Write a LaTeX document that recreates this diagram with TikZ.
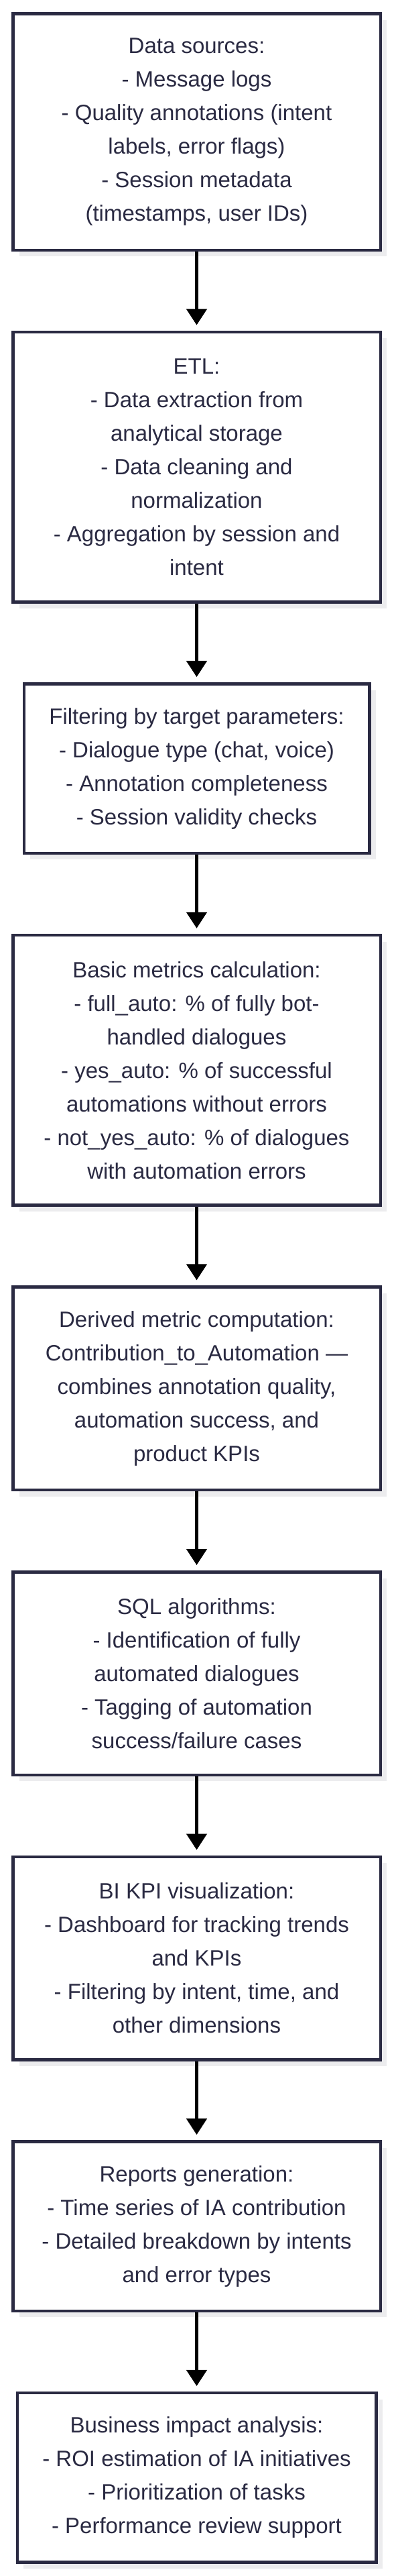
\documentclass[tikz,border=0pt]{standalone}
\usepackage{fontspec}
\setmainfont{Liberation Sans}
\usepackage{tikz}
\usetikzlibrary{positioning,arrows.meta,shadows}

\definecolor{Ink}{RGB}{42,42,66}
\definecolor{ShadowGray}{RGB}{236,236,238}

\begin{document}
\begin{tikzpicture}

	\tikzstyle{block} = [rectangle, draw=Ink, line width=2.25pt, fill=white, text=Ink,
		align=center, minimum width=274.25pt, font=\fontsize{16.5}{25}\selectfont,
		drop shadow={shadow xshift=4.75pt, shadow yshift=-4.75pt, fill=ShadowGray, opacity=1}]
	\tikzstyle{rows} = [minimum height=26.25pt+25pt*#1]
	\tikzstyle{line} = [draw, line width=2.25pt, -{Triangle[width=15pt,length=12pt]}, shorten >=4pt]

	\useasboundingbox (0,0) rectangle (294pt,-1920pt);

	\node[block, rows=6, anchor=north] (src) at (146.75pt,-9pt)
		{Data sources:\\- Message logs\\- Quality annotations (intent\\labels, error flags)\\- Session metadata\\(timestamps, user IDs)};
	\node[block, rows=7, below=58.8pt of src] (etl)
		{ETL:\\- Data extraction from\\analytical storage\\- Data cleaning and\\normalization\\- Aggregation by session and\\intent};
	\node[block, rows=4, minimum width=257.75pt, below=58.8pt of etl] (filt)
		{Filtering by target parameters:\\- Dialogue type (chat, voice)\\- Annotation completeness\\- Session validity checks};
	\node[block, rows=7, below=58.8pt of filt] (basic)
		{Basic metrics calculation:\\- full\_auto: \% of fully bot-\\handled dialogues\\- yes\_auto: \% of successful\\automations without errors\\- not\_yes\_auto: \% of dialogues\\with automation errors};
	\node[block, rows=5, below=58.8pt of basic] (derived)
		{Derived metric computation:\\Contribution\_to\_Automation —\\combines annotation quality,\\automation success, and\\product KPIs};
	\node[block, rows=5, below=58.8pt of derived] (sql)
		{SQL algorithms:\\- Identification of fully\\automated dialogues\\- Tagging of automation\\success/failure cases};
	\node[block, rows=5, below=58.8pt of sql] (bi)
		{BI KPI visualization:\\- Dashboard for tracking trends\\and KPIs\\- Filtering by intent, time, and\\other dimensions};
	\node[block, rows=4, below=58.8pt of bi] (reports)
		{Reports generation:\\- Time series of IA contribution\\- Detailed breakdown by intents\\and error types};
	\node[block, rows=4, minimum width=267.75pt, below=58.8pt of reports] (impact)
		{Business impact analysis:\\- ROI estimation of IA initiatives\\- Prioritization of tasks\\- Performance review support};

	% flow
	\path[line] (src) -- (etl);
	\path[line] (etl) -- (filt);
	\path[line] (filt) -- (basic);
	\path[line] (basic) -- (derived);
	\path[line] (derived) -- (sql);
	\path[line] (sql) -- (bi);
	\path[line] (bi) -- (reports);
	\path[line] (reports) -- (impact);
\end{tikzpicture}
\end{document}
